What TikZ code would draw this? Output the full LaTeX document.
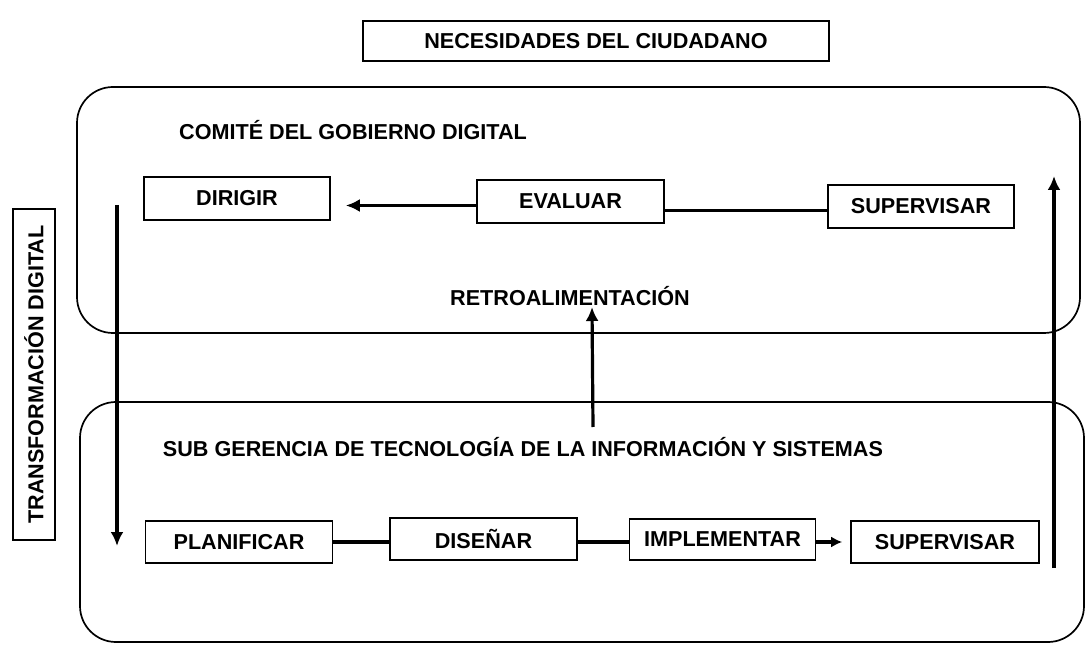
\documentclass[tikz,border=0pt]{standalone}
\usepackage{fontspec}
\setmainfont{Liberation Sans}
\usetikzlibrary{arrows.meta}
\tikzset{
  lbl/.style={font=\fontsize{21.6}{25}\selectfont\bfseries, inner sep=0pt},
  procbox/.style={draw, line width=1.6pt, minimum height=42pt, inner sep=0pt,
    font=\fontsize{21.6}{25}\selectfont\bfseries},
  container/.style={draw, line width=1.7pt, rounded corners=36pt, inner sep=0pt},
  conn/.style={line width=3.2pt},
  arr/.style={line width=3.2pt, -{Latex[length=14pt,width=13pt]}},
  smallarr/.style={line width=3.2pt, -{Latex[length=11pt,width=11pt]}}
}
\begin{document}
\begin{tikzpicture}[x=1pt,y=-1pt]
\useasboundingbox (0,0) rectangle (1088,652);
% containers
\node[container, minimum width=1003pt, minimum height=246pt] (comite) at (578.5,210) {};
\node[container, minimum width=1004pt, minimum height=240pt] (subger) at (582,522) {};
% title box
\node[procbox, minimum width=466pt, minimum height=40pt] (nec) at (596,41) {NECESIDADES DEL CIUDADANO};
% side label
\node[procbox, rotate=90, minimum width=331pt, minimum height=42pt] (tlabel) at (34,374.5) {TRANSFORMACIÓN DIGITAL};
% headings
\node[lbl] (comitetxt) at (353,130) {COMITÉ DEL GOBIERNO DIGITAL};
\node[lbl] (retro) at (570,296) {RETROALIMENTACIÓN};
\node[lbl] (subtxt) at (523,447) {SUB GERENCIA DE TECNOLOGÍA DE LA INFORMACIÓN Y SISTEMAS};
% top boxes
\node[procbox, minimum width=186pt, minimum height=43pt] (dirigir) at (237,198.5) {DIRIGIR};
\node[procbox, minimum width=187pt, minimum height=43pt] (evaluar) at (570.5,201.5) {EVALUAR};
\node[procbox, minimum width=186pt, minimum height=43pt] (suptop) at (921,206.5) {SUPERVISAR};
% bottom boxes
\node[procbox, minimum width=187pt] (planificar) at (239,542) {PLANIFICAR};
\node[procbox, minimum width=187pt] (disenar) at (483.5,539) {DISEÑAR};
\node[procbox, minimum width=186pt, minimum height=41pt] (implementar) at (722.5,539.5) {IMPLEMENTAR};
\node[procbox, minimum width=188pt] (supbot) at (945,542) {SUPERVISAR};
% free ends
\coordinate (ltop) at (117,205);
\coordinate (lbot) at (117,546);
\coordinate (rbot) at (1054,568);
\coordinate (rtop) at (1054,176);
\coordinate (retrobot) at (593,427);
\coordinate (retrotip) at (592,307);
% connectors
\draw[arr, shorten >=15pt] ([yshift=-4pt]evaluar.west) -- ([yshift=-4pt]evaluar.west -| dirigir.east);
\draw[conn] ([yshift=-9pt]evaluar.east) -- ([yshift=-9pt]evaluar.east -| suptop.west);
\draw[arr] (ltop) -- (lbot);
\draw[arr] (rbot) -- (rtop);
\draw[arr] (retrobot) -- (retrotip);
\draw[conn] (planificar.east) -- (planificar.east -| disenar.west);
\draw[conn] ([yshift=-3pt]disenar.east) -- ([yshift=-3pt]disenar.east -| implementar.west);
\draw[smallarr, shorten >=8pt] ([yshift=-2.5pt]implementar.east) -- ([yshift=-2.5pt]implementar.east -| supbot.west);
\end{tikzpicture}
\end{document}
